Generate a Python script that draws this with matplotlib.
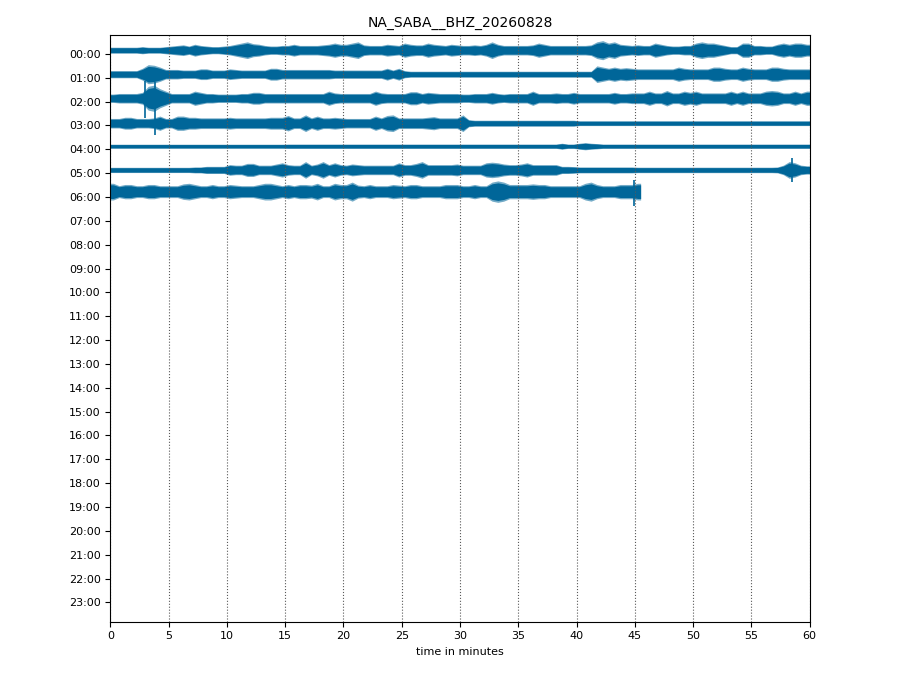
import matplotlib
matplotlib.use('Agg')
import matplotlib.pyplot as plt
import numpy as np

title = 'NA_SABA__BHZ_20260828'
hour_labels = ['%02d:00' % h for h in range(24)]
minute_ticks = list(range(0, 61, 5))

# vertical position of each hourly trace (in hours, y axis is inverted)
trace_centers = [-0.155, 0.852, 1.86, 2.907, 3.872, 4.866, 5.776]

# half amplitude of the trace envelope, one value per half minute (relative counts)
amp_00 = [2.5, 2.5, 2.5, 2.5, 2.5, 3, 2.5, 2.5, 2.5, 3,
          3.5, 4, 4.5, 3.5, 5, 4, 3.5, 3, 3, 3.5,
          4, 5, 6, 7, 5.5, 5, 4, 3.5, 3.5, 4,
          4, 5, 4, 4, 4, 4, 4.5, 5, 6, 5,
          5, 6, 7, 4.5, 4, 4, 4, 5, 4.5, 4,
          6, 5, 4.5, 4.5, 6, 5, 4.5, 4, 5, 4.5,
          4, 4, 4.5, 4, 5, 7, 5, 4, 4, 4,
          4, 4, 4.5, 6, 5, 4, 4, 4, 4, 4,
          4, 4, 4.5, 7, 8, 6, 7, 5, 4.5, 4,
          4.5, 4, 4, 6, 5, 4, 3.5, 3.5, 4, 4,
          6, 7, 6, 6, 5, 4, 3, 3, 6, 6,
          4, 4, 3.5, 3.5, 5, 6, 5, 6, 6, 5]
amp_01 = [3, 3, 3, 3, 3, 5, 8, 7.5, 6, 4,
          4, 4, 3.5, 3.5, 3.5, 4.5, 4.5, 3.5, 3.5, 3.5,
          4.5, 4, 3.5, 3.5, 3.5, 3.5, 3.5, 5, 5, 4,
          4, 4, 4, 4, 4, 4, 4, 4, 3.5, 3.5,
          3.5, 3.5, 3.5, 3.5, 3.5, 3.5, 3.5, 5, 3.5, 5,
          3, 2.5, 2.5, 2.5, 2.5, 2.5, 2.5, 2.5, 2.5, 2.5,
          2.5, 2.5, 2.5, 2.5, 2.5, 2.5, 2.5, 2.5, 2.5, 2.5,
          2.5, 2.5, 2.5, 2.5, 2.5, 2.5, 2.5, 2.5, 2.5, 2.5,
          2.5, 2.5, 2.5, 7, 6, 5, 6, 5, 5.5, 5,
          4.5, 4.5, 4.5, 4.5, 4.5, 4.5, 4.5, 6, 5, 4.5,
          4.5, 4.5, 4.5, 6, 6, 5, 4.5, 4.5, 6, 5,
          4.5, 4.5, 4.5, 6, 6, 5, 4.5, 4.5, 4.5, 4.5]
amp_02 = [3.5, 4, 4, 4, 4, 5, 10, 11, 8, 6,
          4, 4, 4, 4, 6, 5, 4, 4, 3.5, 3.5,
          3.5, 3.5, 4, 4, 5, 5, 4, 4, 4, 4,
          4, 4, 4, 4, 4, 4, 4, 6, 4.5, 4,
          4, 4, 4, 4, 4, 6, 4.5, 4, 4, 4,
          4, 5.5, 5.5, 4, 5, 4.5, 4, 4, 4, 4,
          3.5, 3.5, 4, 4, 4, 5, 4, 3.5, 4, 4,
          4, 4, 6, 4, 4, 4, 4.5, 4, 4, 5,
          4, 4, 4, 4, 4, 4, 5, 4, 4, 4.5,
          4.5, 4.5, 6, 4.5, 4.5, 6.5, 4.5, 4.5, 6, 5,
          6, 4.5, 4.5, 4.5, 4.5, 4.5, 6, 4.5, 6, 4.5,
          4.5, 4.5, 6, 6.5, 6, 4.5, 4.5, 6, 4.5, 6]
amp_03 = [4, 4, 5, 5, 4, 4, 4, 4.5, 6, 4,
          4, 6, 6, 5, 5, 4.5, 4.5, 4.5, 4.5, 4.5,
          5, 4.5, 4.5, 4.5, 4.5, 4.5, 4.5, 5, 5, 5,
          6.5, 4.5, 4.5, 7, 4.5, 6, 4.5, 4.5, 5, 4.5,
          4, 4, 4, 4, 4, 6, 4.5, 6.5, 7, 4.5,
          4.5, 4.5, 4.5, 4.5, 5, 5.5, 4.5, 4.5, 4.5, 4.5,
          7, 3, 2.5, 2.5, 2.5, 2.5, 2.5, 2.5, 2.5, 2.5,
          2.5, 2.5, 2.5, 2.5, 2.5, 2.5, 2.5, 2.5, 2.5, 2.5,
          2, 2, 2, 2, 2, 2, 2, 2, 2, 2,
          2, 2, 2, 2, 2, 2, 2, 2, 2, 2,
          2, 2, 2, 2, 2, 2, 2, 2, 2, 2,
          2, 2, 2, 2, 2, 2, 2, 2, 2, 2]
amp_04 = [1.7, 1.7, 1.7, 1.7, 1.7, 1.7, 1.7, 1.7, 1.7, 1.7,
          1.7, 1.7, 1.7, 1.7, 1.7, 1.7, 1.7, 1.7, 1.7, 1.7,
          1.7, 1.7, 1.7, 1.7, 1.7, 1.7, 1.7, 1.7, 1.7, 1.7,
          1.8, 1.8, 1.8, 1.8, 1.8, 1.8, 1.8, 1.8, 1.8, 1.8,
          1.8, 1.8, 1.8, 1.8, 1.8, 1.8, 1.8, 1.8, 1.8, 1.8,
          1.8, 1.8, 1.8, 1.8, 1.8, 1.8, 1.8, 1.8, 1.8, 1.8,
          1.8, 1.8, 1.8, 1.8, 1.8, 1.8, 1.8, 1.8, 1.8, 1.8,
          1.8, 1.8, 1.8, 1.8, 1.8, 1.8, 1.8, 2.5, 1.8, 1.8,
          2.5, 3, 2.5, 2.2, 1.8, 1.8, 1.8, 1.8, 1.8, 1.8,
          1.8, 1.8, 1.8, 1.8, 1.8, 1.8, 1.8, 1.8, 1.8, 1.8,
          1.8, 1.8, 1.8, 1.8, 1.8, 1.8, 1.8, 1.8, 1.8, 1.8,
          1.8, 1.8, 1.8, 1.8, 1.8, 1.8, 1.8, 1.8, 1.8, 1.8]
amp_05 = [2.2, 2.2, 2.2, 2.2, 2.2, 2.2, 2.2, 2.2, 2.2, 2.2,
          2.2, 2.2, 2.2, 2.2, 2.5, 2.5, 3, 3, 3, 3,
          4.5, 4, 4, 5.5, 5.5, 4, 4, 4, 5, 6,
          4.5, 4, 4, 7, 4, 5, 7, 4.5, 6, 4.5,
          4, 5, 4.5, 4, 4, 4, 4, 4, 4, 6,
          4.5, 4.5, 5.5, 7, 4.5, 4.5, 4.5, 4.5, 4.5, 5,
          4, 4, 4, 4, 6, 6.5, 6, 5, 4.5, 4.5,
          5, 6, 4.5, 4.5, 4.5, 4.5, 4.5, 3, 3, 2.8,
          2.5, 2.5, 2.5, 2.5, 2.5, 2.5, 2.5, 2.5, 2.5, 2.5,
          2.3, 2.3, 2.3, 2.3, 2.3, 2.3, 2.3, 2.3, 2.3, 2.3,
          2.3, 2.3, 2.3, 2.3, 2.3, 2.3, 2.3, 2.3, 2.3, 2.3,
          2.3, 2.3, 2.3, 2.3, 2.5, 4, 7, 6, 4, 3.5]
amp_06 = [7, 5, 6, 6, 5, 5, 6, 6, 5, 5,
          5, 5, 6.5, 7, 6, 5, 5, 6, 5, 5,
          6, 5.5, 5, 5, 5, 6, 7, 7, 6, 5,
          6, 5, 6, 6, 5.5, 7, 5, 5, 7, 6,
          6, 8, 5.5, 5, 6, 5, 5, 5, 6, 5.5,
          5, 6, 6, 5, 5, 5, 5, 6, 6, 6,
          5, 5, 6, 5, 5, 8, 9, 8, 6, 6,
          6, 6, 6.5, 6, 6, 5, 5, 5, 5, 5,
          5, 7, 8, 6, 5, 5, 5, 6, 6, 6,
          7]
amplitudes = [amp_00, amp_01, amp_02, amp_03, amp_04, amp_05, amp_06]

# single large wiggles: (trace index, minute, swing up, swing down)
spike_trace = [2, 2, 5, 6]
spike_minute = [3.0, 3.8, 58.5, 44.9]
spike_up = [17, 16, 12, 12]
spike_down = [20, 37, 12, 14]

counts_per_hour = 20.0  # envelope counts that fill one hour row
color = '#006699'

fig, ax = plt.subplots(figsize=(9.2, 6.9), dpi=100)
fig.subplots_adjust(left=0.12, right=0.88, bottom=0.099, top=0.949)

for center, amp in zip(trace_centers, amplitudes):
    a = np.array(amp) / counts_per_hour
    n = len(a)
    t = np.concatenate([[0.0], np.arange(n) * 0.5 + 0.25, [n * 0.5]])
    a = np.concatenate([[a[0]], a, [a[-1]]])
    ax.fill_between(t, center - a, center + a, color=color, alpha=0.55, lw=0)
    ax.fill_between(t, center - 0.82 * a, center + 0.82 * a, color=color, lw=0)

for i, m, up, dn in zip(spike_trace, spike_minute, spike_up, spike_down):
    c = trace_centers[i]
    ax.vlines(m, c - up / counts_per_hour * 0.84, c + dn / counts_per_hour * 0.84,
              color=color, lw=1.2)

ax.set_xlim(0, 60)
ax.set_ylim(23.81, -0.784)
ax.set_xticks(minute_ticks)
ax.set_yticks(range(24))
ax.set_yticklabels(hour_labels)
ax.tick_params(labelsize=8)
ax.xaxis.grid(True, linestyle=':', color='0.35', lw=0.8)
ax.set_xlabel('time in minutes', fontsize=8)
ax.set_title(title, fontsize=10)

fig.savefig('out.png', dpi=100)
